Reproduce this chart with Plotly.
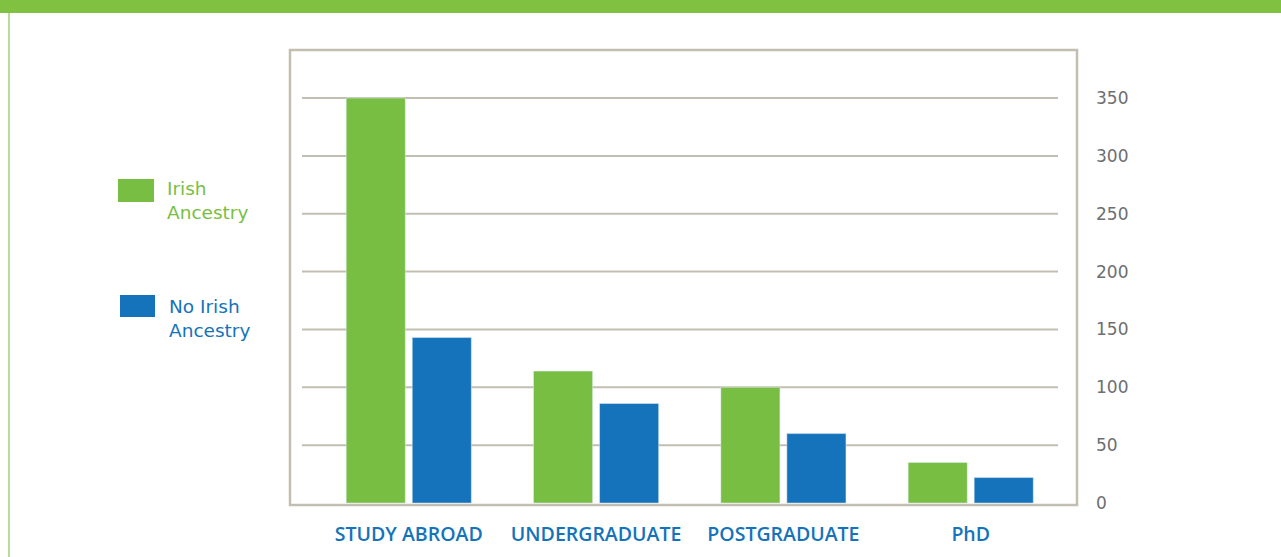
import plotly.graph_objects as go

# datos
categorias = ['STUDY ABROAD', 'UNDERGRADUATE', 'POSTGRADUATE', 'PhD']
irish = [350, 114, 100, 35]
no_irish = [143, 86, 60, 22]
ticks_y = [0, 50, 100, 150, 200, 250, 300, 350]
serie_1 = 'Irish<br>Ancestry'
serie_2 = 'No Irish<br>Ancestry'

W, H = 1281, 557
L, R, T, B = 302, 1058, 50, 505
pw, ph = R - L, B - T

verde = '#78BE43'
azul = '#1473BA'
gris = '#C2BFB2'


def px_x(x):
    return (x - L) / pw


def px_y(y):
    return (B - y) / ph


fig = go.Figure()
fig.add_trace(go.Bar(x=categorias, y=irish, name='Irish Ancestry', marker_color=verde))
fig.add_trace(go.Bar(x=categorias, y=no_irish, name='No Irish Ancestry', marker_color=azul))

# lineas de la cuadricula (insertadas dentro del marco)
for v in ticks_y[1:]:
    fig.add_shape(type='line', xref='paper', yref='y', x0=0, x1=1, y0=v, y1=v,
                  line=dict(color=gris, width=2), layer='below')

# marco
fig.add_shape(type='rect', xref='paper', yref='paper', x0=px_x(290), x1=px_x(1077),
              y0=px_y(505), y1=px_y(50), line=dict(color=gris, width=2.5))
# banda verde superior y linea izquierda
fig.add_shape(type='rect', xref='paper', yref='paper', x0=px_x(0), x1=px_x(W),
              y0=px_y(13), y1=px_y(0), line_width=0, fillcolor='#80C141')
fig.add_shape(type='line', xref='paper', yref='paper', x0=px_x(9), x1=px_x(9),
              y0=px_y(13), y1=px_y(H), line=dict(color='#B9DC97', width=2))

# leyenda manual
fig.add_shape(type='rect', xref='paper', yref='paper', x0=px_x(118), x1=px_x(154),
              y0=px_y(202), y1=px_y(179), line_width=0, fillcolor=verde)
fig.add_shape(type='rect', xref='paper', yref='paper', x0=px_x(120), x1=px_x(155),
              y0=px_y(317), y1=px_y(295), line_width=0, fillcolor=azul)
fig.add_annotation(xref='paper', yref='paper', x=px_x(165), y=px_y(200), text=serie_1,
                   showarrow=False, xanchor='left', yanchor='middle', align='left',
                   font=dict(family='DejaVu Sans', size=18.5, color=verde))
fig.add_annotation(xref='paper', yref='paper', x=px_x(167), y=px_y(318), text=serie_2,
                   showarrow=False, xanchor='left', yanchor='middle', align='left',
                   font=dict(family='DejaVu Sans', size=18.5, color=azul))

fig.update_layout(
    width=W, height=H,
    margin=dict(l=L, r=W - R, t=T, b=H - B, pad=0, autoexpand=False),
    plot_bgcolor='white', paper_bgcolor='white',
    showlegend=False,
    barmode='group', bargap=0.295, bargroupgap=0.105,
)
fig.update_xaxes(range=[-0.57, 3.466], showgrid=False, showline=False, zeroline=False,
                 ticks='', ticklabelstandoff=15, automargin=False,
                 tickfont=dict(family='Open Sans', size=19.5, color=azul, weight=600))
fig.update_yaxes(range=[-1.7, 391.5], side='right', tickvals=ticks_y, showgrid=False,
                 zeroline=False, showline=False, ticks='', ticklabelstandoff=37,
                 automargin=False,
                 tickfont=dict(family='DejaVu Sans', size=17, color='#6D6E71'))

fig.write_html('out.html', config={'displayModeBar': False},
               post_script="document.body.style.margin='0';")
